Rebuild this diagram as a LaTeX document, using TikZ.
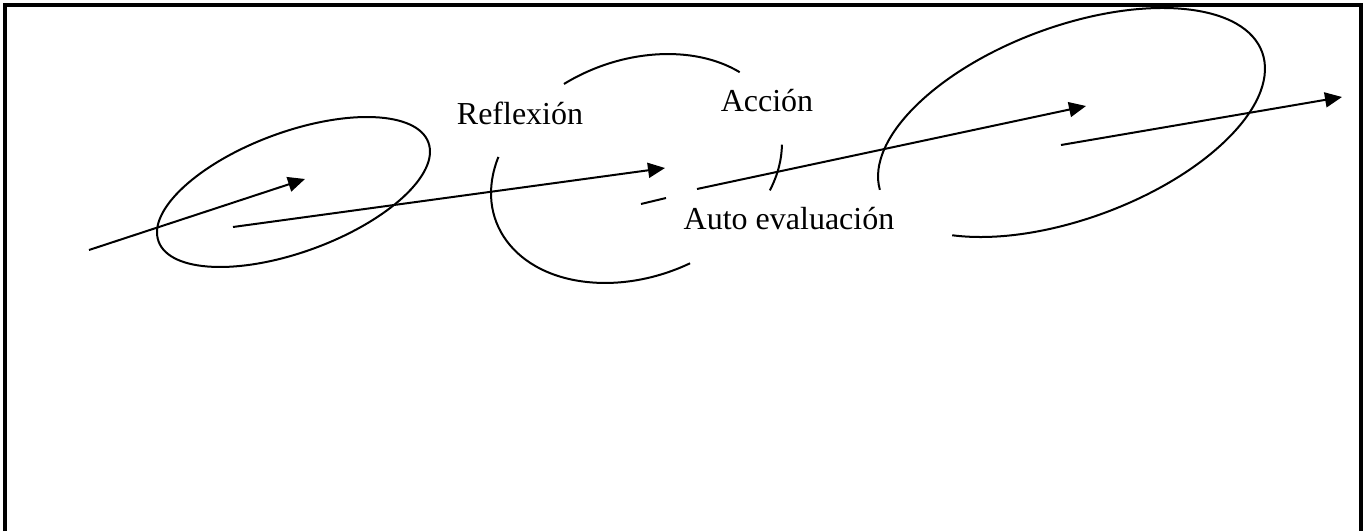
\documentclass[tikz,border=0pt]{standalone}
\usepackage{fontspec}
\setmainfont{Liberation Serif}
\usetikzlibrary{arrows.meta}
\begin{document}
\begin{tikzpicture}[x=0.5pt,y=0.5pt,
  curve/.style={line width=1pt},
  flow/.style={line width=1pt,-{Triangle[length=8.5pt,width=7.5pt]}},
  plain/.style={line width=1pt},
  word/.style={font=\fontsize{16pt}{19pt}\selectfont, inner sep=0pt, anchor=base},
  frame/.style={line width=2pt, line join=miter}]
\useasboundingbox (0,0) rectangle (1367,531);

% open frame
\draw[frame] (5,0) -- (5,526) -- (1361,526) -- (1361,0);

% left ellipse
\begin{scope}[shift={(293.5,339)}, rotate=20.15]
  \draw[curve] (0,0) ellipse [x radius=143.7, y radius=60];
\end{scope}

% central broken ellipse
\begin{scope}[shift={(636.5,362.5)}, rotate=20.9]
  \draw[curve] (29.4:150.1 and 108.3) arc[start angle=29.4, end angle=104.5, x radius=150.1, y radius=108.3];
  \draw[curve] (146.3:150.1 and 108.3) arc[start angle=146.3, end angle=276.2, x radius=150.1, y radius=108.3];
  \draw[curve] (-38.9:150.1 and 108.3) arc[start angle=-38.9, end angle=-15.9, x radius=150.1, y radius=108.3];
\end{scope}

% right open ellipse
\begin{scope}[shift={(1071.5,408.5)}, rotate=20.3]
  \draw[curve] (222:203.2 and 96.2) arc[start angle=222, end angle=538, x radius=203.2, y radius=96.2];
\end{scope}

% labels
\node[word] (refl) at (520,406) {Reflexión};
\node[word] (acc) at (767,419) {Acción};
\node[word] (auto) at (789,301) {Auto evaluación};

% arrows
\coordinate (a1s) at (89,281);   \coordinate (a1e) at (305,352);
\coordinate (a2s) at (233,304);  \coordinate (a2e) at (665,363);
\coordinate (d1s) at (641,327);  \coordinate (d1e) at (666,333);
\coordinate (a3s) at (697,342);  \coordinate (a3e) at (1086,425);
\coordinate (a4s) at (1061,386); \coordinate (a4e) at (1342,434);

\draw[flow] (a1s) -- (a1e);
\draw[flow] (a2s) -- (a2e);
\draw[plain] (d1s) -- (d1e);
\draw[flow] (a3s) -- (a3e);
\draw[flow] (a4s) -- (a4e);
\end{tikzpicture}
\end{document}
